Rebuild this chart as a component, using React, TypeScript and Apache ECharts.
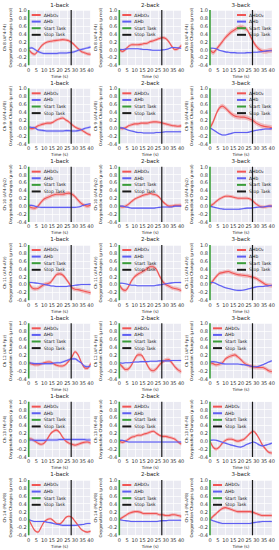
import React, { useEffect, useRef } from 'react';
import * as echarts from 'echarts';

const TIME = [0, 2, 4, 6, 8, 10, 12, 14, 16, 18, 20, 22, 24, 26, 28, 30, 32, 34, 36, 38, 40];
const CONDITIONS = ['1-back', '2-back', '3-back'];
const CHANNELS = [
  'Ch 8 (AF4-F4)',
  'Ch 9 (AF4-AF8)',
  'Ch 10 (AF4-Fp2)',
  'Ch 11 (AF4-AFz)',
  'Ch 12 (AF4-Fpz)',
  'Ch 13 (F6-F4)',
  'Ch 14 (F6-AF8)',
];
const SHOW_TITLE = [
  [true, true, true],
  [true, true, true],
  [true, true, true],
  [true, true, true],
  [true, true, true],
  [true, true, false],
  [true, true, true],
];
const LEGEND_RIGHT = [
  [false, false, true],
  [false, false, true],
  [false, false, true],
  [false, false, true],
  [false, false, false],
  [false, false, false],
  [false, false, false],
];
const START_TASK = 0;
const STOP_TASK = 27.5;

// ΔHbO2 means per channel: [1-back, 2-back, 3-back]
const CH8_HBO2 = [
  [0.0, -0.09, -0.12, -0.03, 0.08, 0.15, 0.19, 0.21, 0.22, 0.23, 0.24, 0.25, 0.24, 0.22, 0.17, 0.1, 0.02, -0.05, -0.08, -0.11, -0.12],
  [0.0, -0.05, 0.0, 0.08, 0.12, 0.12, 0.12, 0.13, 0.15, 0.16, 0.2, 0.22, 0.25, 0.28, 0.3, 0.28, 0.2, 0.08, 0.0, 0.02, 0.1],
  [0.0, -0.08, 0.0, 0.1, 0.2, 0.3, 0.38, 0.45, 0.5, 0.55, 0.57, 0.55, 0.5, 0.35, 0.2, 0.08, 0.0, -0.04, -0.05, -0.03, -0.02],
];
const CH9_HBO2 = [
  [0.0, -0.02, 0.0, 0.05, 0.08, 0.1, 0.12, 0.12, 0.15, 0.2, 0.23, 0.25, 0.2, 0.15, 0.08, 0.02, -0.02, -0.05, -0.1, -0.15, -0.18],
  [0.0, -0.02, 0.0, 0.05, 0.08, 0.1, 0.1, 0.12, 0.12, 0.12, 0.14, 0.15, 0.15, 0.14, 0.12, 0.1, 0.08, 0.06, 0.05, 0.04, 0.05],
  [0.0, 0.15, 0.35, 0.5, 0.55, 0.5, 0.42, 0.35, 0.3, 0.28, 0.27, 0.27, 0.25, 0.22, 0.18, 0.12, 0.08, 0.05, 0.03, 0.02, 0.0],
];
const CH10_HBO2 = [
  [0.0, -0.04, -0.05, 0.0, 0.1, 0.18, 0.22, 0.25, 0.28, 0.3, 0.3, 0.3, 0.32, 0.33, 0.3, 0.24, 0.15, 0.07, 0.02, 0.0, 0.03],
  [0.0, -0.02, 0.0, 0.05, 0.12, 0.18, 0.22, 0.25, 0.28, 0.3, 0.32, 0.3, 0.28, 0.22, 0.12, 0.05, 0.0, 0.0, 0.02, 0.02, 0.02],
  [0.0, 0.05, 0.12, 0.18, 0.22, 0.25, 0.25, 0.24, 0.22, 0.2, 0.2, 0.2, 0.2, 0.18, 0.12, 0.05, 0.0, -0.02, -0.02, 0.0, 0.0],
];
const CH11_HBO2 = [
  [0.05, -0.08, -0.11, -0.1, -0.05, 0.0, 0.02, 0.05, 0.15, 0.25, 0.27, 0.24, 0.15, 0.04, -0.08, -0.12, -0.13, -0.15, -0.17, -0.19, -0.21],
  [0.0, -0.12, -0.15, -0.05, 0.1, 0.2, 0.26, 0.3, 0.35, 0.4, 0.45, 0.45, 0.38, 0.22, 0.08, 0.0, -0.04, -0.08, -0.1, -0.12, -0.15],
  [0.0, 0.1, 0.2, 0.28, 0.3, 0.32, 0.33, 0.3, 0.27, 0.25, 0.24, 0.23, 0.22, 0.2, 0.18, 0.15, 0.1, 0.05, 0.0, -0.02, -0.03],
];
const CH12_HBO2 = [
  [0.0, -0.03, -0.05, -0.05, -0.03, 0.0, 0.02, 0.02, -0.02, -0.06, -0.08, -0.08, -0.04, 0.05, 0.15, 0.28, 0.2, 0.02, -0.12, -0.14, -0.02],
  [-0.02, -0.1, -0.17, -0.15, -0.05, 0.1, 0.2, 0.2, 0.1, -0.05, -0.17, -0.2, -0.15, -0.05, 0.02, 0.07, 0.08, 0.0, -0.1, -0.18, -0.22],
  [0.0, -0.02, -0.05, -0.03, 0.0, 0.1, 0.15, 0.18, 0.2, 0.15, 0.08, 0.0, -0.05, -0.08, -0.1, -0.12, -0.12, -0.12, -0.15, -0.2, -0.22],
];
const CH13_HBO2 = [
  [0.06, 0.05, 0.0, -0.05, -0.08, -0.05, 0.05, 0.18, 0.25, 0.28, 0.22, 0.1, 0.0, -0.05, -0.08, -0.1, -0.08, -0.05, -0.03, -0.02, -0.05],
  [0.0, -0.03, 0.0, 0.05, 0.1, 0.12, 0.15, 0.15, 0.18, 0.2, 0.23, 0.25, 0.2, 0.15, 0.12, 0.12, 0.1, 0.08, 0.05, -0.02, -0.07],
  [0.0, -0.15, -0.2, -0.15, -0.05, 0.02, 0.05, 0.05, 0.02, 0.0, 0.02, 0.05, 0.12, 0.2, 0.25, 0.18, 0.05, -0.1, -0.2, -0.28, -0.3],
];
const CH14_HBO2 = [
  [0.0, -0.15, -0.28, -0.32, -0.2, -0.06, 0.0, 0.02, -0.03, -0.1, -0.11, -0.05, 0.05, 0.08, 0.05, -0.05, -0.15, -0.25, -0.3, -0.32, -0.3],
  [0.0, 0.05, 0.1, 0.15, 0.18, 0.2, 0.2, 0.18, 0.15, 0.15, 0.15, 0.15, 0.15, 0.12, 0.12, 0.1, 0.1, 0.12, 0.12, 0.1, 0.08],
  [0.0, 0.08, 0.15, 0.22, 0.28, 0.3, 0.28, 0.25, 0.22, 0.2, 0.2, 0.2, 0.2, 0.2, 0.18, 0.15, 0.12, 0.1, 0.1, 0.1, 0.1],
];

// ΔHb means per channel
const CH8_HB = [
  [0.03, 0.04, 0.0, -0.05, -0.08, -0.1, -0.1, -0.1, -0.1, -0.1, -0.09, -0.09, -0.09, -0.08, -0.07, -0.05, -0.02, 0.0, 0.02, 0.04, 0.06],
  [0.0, 0.0, 0.01, 0.02, 0.02, 0.02, 0.02, 0.01, 0.0, 0.0, -0.01, -0.02, -0.02, -0.02, -0.01, 0.0, 0.02, 0.05, 0.05, 0.04, 0.03],
  [0.03, 0.03, 0.02, -0.02, -0.04, -0.06, -0.07, -0.08, -0.08, -0.09, -0.09, -0.09, -0.08, -0.08, -0.07, -0.07, -0.06, -0.05, -0.04, -0.03, -0.03],
];
const CH9_HB = [
  [0.02, 0.01, 0.0, -0.05, -0.06, -0.07, -0.08, -0.08, -0.08, -0.08, -0.08, -0.08, -0.07, -0.07, -0.08, -0.08, -0.07, -0.05, -0.02, 0.0, 0.02],
  [0.0, 0.0, -0.03, -0.06, -0.08, -0.1, -0.12, -0.12, -0.13, -0.13, -0.13, -0.13, -0.12, -0.12, -0.11, -0.1, -0.1, -0.1, -0.1, -0.1, -0.1],
  [0.0, -0.05, -0.1, -0.15, -0.18, -0.18, -0.16, -0.14, -0.12, -0.12, -0.12, -0.12, -0.12, -0.1, -0.08, -0.06, -0.05, -0.04, -0.03, -0.03, -0.02],
];
const CH10_HB = [
  [0.02, 0.02, 0.0, -0.02, -0.03, -0.03, -0.03, -0.03, -0.03, -0.03, -0.03, -0.03, -0.03, -0.03, -0.03, -0.03, -0.02, 0.0, 0.03, 0.05, 0.06],
  [0.0, 0.0, -0.02, -0.03, -0.05, -0.05, -0.05, -0.05, -0.05, -0.05, -0.05, -0.05, -0.04, -0.03, -0.02, -0.02, -0.02, -0.02, 0.0, 0.0, 0.0],
  [0.0, -0.02, -0.04, -0.06, -0.07, -0.08, -0.08, -0.08, -0.08, -0.08, -0.07, -0.06, -0.05, -0.05, -0.04, -0.03, -0.02, -0.02, -0.01, 0.0, 0.0],
];
const CH11_HB = [
  [0.05, 0.05, 0.04, 0.03, 0.02, 0.0, -0.01, -0.03, -0.04, -0.05, -0.05, -0.05, -0.05, -0.04, -0.03, -0.02, -0.01, 0.0, 0.0, 0.0, 0.0],
  [0.03, 0.03, 0.02, 0.0, -0.02, -0.02, -0.03, -0.03, -0.03, -0.03, -0.03, -0.03, -0.02, -0.01, 0.0, 0.02, 0.03, 0.04, 0.05, 0.05, 0.05],
  [0.05, 0.05, 0.02, -0.02, -0.05, -0.08, -0.1, -0.12, -0.14, -0.15, -0.15, -0.14, -0.12, -0.1, -0.08, -0.06, -0.05, -0.05, -0.04, -0.03, -0.02],
];
const CH12_HB = [
  [0.0, -0.01, -0.02, -0.02, -0.02, -0.02, -0.02, -0.02, -0.01, 0.0, 0.0, 0.02, 0.05, 0.08, 0.1, 0.1, 0.05, 0.0, -0.08, -0.1, -0.08],
  [0.0, -0.01, 0.0, 0.0, 0.01, 0.02, 0.02, 0.03, 0.03, 0.03, 0.04, 0.04, 0.04, 0.05, 0.05, 0.05, 0.05, 0.06, 0.06, 0.06, 0.06],
  [0.02, 0.03, 0.02, 0.0, -0.02, -0.03, -0.03, -0.03, -0.03, -0.03, -0.04, -0.05, -0.06, -0.08, -0.1, -0.1, -0.08, -0.05, -0.02, 0.02, 0.05],
];
const CH13_HB = [
  [0.03, 0.03, 0.02, 0.02, 0.02, 0.02, 0.03, 0.03, 0.03, 0.03, 0.04, 0.04, 0.04, 0.04, 0.04, 0.04, 0.04, 0.04, 0.04, 0.03, 0.03],
  [0.02, 0.02, 0.0, -0.02, -0.02, -0.02, -0.02, -0.02, -0.02, -0.02, -0.02, -0.02, -0.02, -0.02, -0.02, -0.02, -0.02, -0.02, -0.02, -0.02, -0.02],
  [0.02, 0.03, 0.02, 0.0, -0.03, -0.05, -0.08, -0.1, -0.12, -0.14, -0.15, -0.12, -0.08, -0.05, -0.02, -0.05, -0.1, -0.12, -0.1, -0.08, -0.05],
];
const CH14_HB = [
  [0.0, -0.03, -0.05, -0.05, -0.05, -0.05, -0.07, -0.08, -0.1, -0.12, -0.13, -0.15, -0.15, -0.15, -0.15, -0.15, -0.14, -0.13, -0.12, -0.1, -0.1],
  [0.0, -0.02, -0.03, -0.04, -0.05, -0.05, -0.05, -0.05, -0.05, -0.05, -0.05, -0.05, -0.05, -0.04, -0.03, -0.03, -0.02, -0.02, -0.02, -0.02, -0.02],
  [0.0, -0.03, -0.06, -0.08, -0.1, -0.1, -0.1, -0.1, -0.1, -0.1, -0.1, -0.1, -0.1, -0.1, -0.08, -0.07, -0.06, -0.05, -0.05, -0.05, -0.05],
];

// half-width of shaded error bands per channel [1-back, 2-back, 3-back]
const HBO2_ERR = [
  [0.04, 0.04, 0.06],
  [0.04, 0.04, 0.06],
  [0.05, 0.04, 0.04],
  [0.05, 0.05, 0.05],
  [0.04, 0.05, 0.05],
  [0.04, 0.04, 0.04],
  [0.03, 0.04, 0.04],
];
const HB_ERR = [
  [0.03, 0.02, 0.02],
  [0.03, 0.02, 0.02],
  [0.02, 0.02, 0.02],
  [0.02, 0.02, 0.02],
  [0.03, 0.02, 0.02],
  [0.04, 0.02, 0.02],
  [0.02, 0.02, 0.02],
];

const HBO2 = [CH8_HBO2, CH9_HBO2, CH10_HBO2, CH11_HBO2, CH12_HBO2, CH13_HBO2, CH14_HBO2];
const HB = [CH8_HB, CH9_HB, CH10_HB, CH11_HB, CH12_HB, CH13_HB, CH14_HB];

const FONT = 'DejaVu Sans';
const RED = '#f05555';
const RED_BAND = 'rgba(240, 85, 85, 0.35)';
const BLUE = '#5e5ef2';
const BLUE_BAND = 'rgba(94, 94, 242, 0.3)';
const GREEN = '#3a9d3a';
const BLACK = '#1a1a1a';

const COL_LEFT = [28.7, 119.3, 210];
const PLOT_W = 61.8;
const ROW_STEP = 78.33;
const ROW_TOP0 = 10;
const PLOT_H = 55.3;
const Y_MIN = -0.4;
const Y_MAX = 1.0;

function bandSeries(i: number, mean: number[], err: number, fill: string) {
  return {
    type: 'custom',
    xAxisIndex: i,
    yAxisIndex: i,
    silent: true,
    clip: true,
    z: 1,
    data: TIME.map((t, k) => [t, mean[k] - err, mean[k] + err]),
    encode: { x: 0, y: [1, 2] },
    renderItem: (params: any, api: any) => {
      if (params.dataIndexInside !== 0) return null;
      const n = TIME.length;
      const upper: number[][] = [];
      const lower: number[][] = [];
      for (let k = 0; k < n; k++) {
        upper.push(api.coord([api.value(0, k), api.value(2, k)]));
        lower.push(api.coord([api.value(0, k), api.value(1, k)]));
      }
      const pts = upper.concat(lower.reverse());
      return {
        type: 'polygon',
        shape: { points: pts, smooth: 0.35 },
        style: { fill, stroke: 'none' },
      };
    },
  };
}

function buildOption() {
  const grid: any[] = [];
  const xAxis: any[] = [];
  const yAxis: any[] = [];
  const title: any[] = [];
  const legend: any[] = [];
  const series: any[] = [];

  for (let r = 0; r < CHANNELS.length; r++) {
    for (let c = 0; c < CONDITIONS.length; c++) {
      const i = r * 3 + c;
      const left = COL_LEFT[c];
      const top = ROW_TOP0 + r * ROW_STEP;
      grid.push({
        left, top, width: PLOT_W, height: PLOT_H,
        show: true, backgroundColor: '#EAEAF2', borderWidth: 0,
      });
      xAxis.push({
        gridIndex: i, type: 'value', min: 0, max: 40, interval: 5,
        axisLine: { show: false }, axisTick: { show: false },
        axisLabel: { fontSize: 5, color: '#333', margin: 2, fontFamily: FONT },
        splitLine: { show: true, lineStyle: { color: '#ffffff', width: 0.7 } },
        name: 'Time (s)', nameLocation: 'middle', nameGap: 9,
        nameTextStyle: { fontSize: 4.2, color: '#222', fontFamily: FONT },
      });
      yAxis.push({
        gridIndex: i, type: 'value', min: Y_MIN, max: Y_MAX, interval: 0.2,
        axisLine: { show: false }, axisTick: { show: false },
        axisLabel: {
          fontSize: 5, color: '#333', margin: 2, fontFamily: FONT,
          formatter: (v: number) => v.toFixed(1),
        },
        splitLine: { show: true, lineStyle: { color: '#ffffff', width: 0.7 } },
        name: CHANNELS[r] + '\nOxygenation Changes (μ mol)',
        nameLocation: 'middle', nameRotate: 90, nameGap: 12,
        nameTextStyle: { fontSize: 4, lineHeight: 5.5, color: '#222', fontFamily: FONT },
      });
      if (SHOW_TITLE[r][c]) {
        title.push({
          text: CONDITIONS[c], left: left + PLOT_W / 2, top: top - 8.5, textAlign: 'center', padding: 0,
          textStyle: { fontSize: 5.5, fontWeight: 'normal', color: '#222', fontFamily: FONT },
        });
      }
      legend.push({
        left: left + (LEGEND_RIGHT[r][c] ? 27 : 3), top: top + 2.5,
        orient: 'vertical', padding: 0, itemGap: 1.6, itemWidth: 9, itemHeight: 2,
        icon: 'rect', selectedMode: false,
        data: ['ΔHbO₂', 'ΔHb', 'Start Task', 'Stop Task'],
        textStyle: { fontSize: 4.5, color: '#222', fontFamily: FONT, padding: [0, 0, 0, -2] },
      });

      const red = HBO2[r][c];
      const blue = HB[r][c];
      series.push(bandSeries(i, red, HBO2_ERR[r][c], RED_BAND));
      series.push(bandSeries(i, blue, HB_ERR[r][c], BLUE_BAND));
      const common = {
        type: 'line', xAxisIndex: i, yAxisIndex: i, symbol: 'none', smooth: 0.35, silent: true, z: 3,
      };
      series.push({
        ...common, name: 'ΔHbO₂', color: RED,
        data: TIME.map((t, k) => [t, red[k]]),
        lineStyle: { color: RED, width: 1.1 },
      });
      series.push({
        ...common, name: 'ΔHb', color: BLUE,
        data: TIME.map((t, k) => [t, blue[k]]),
        lineStyle: { color: BLUE, width: 1.1 },
      });
      series.push({
        type: 'line', xAxisIndex: i, yAxisIndex: i, symbol: 'none', silent: true,
        name: 'Start Task', color: GREEN,
        data: [[START_TASK, Y_MIN], [START_TASK, Y_MAX]],
        lineStyle: { color: GREEN, width: 1.6 }, z: 5,
      });
      series.push({
        type: 'line', xAxisIndex: i, yAxisIndex: i, symbol: 'none', silent: true,
        name: 'Stop Task', color: BLACK,
        data: [[STOP_TASK, Y_MIN], [STOP_TASK, Y_MAX]],
        lineStyle: { color: BLACK, width: 1.2 }, z: 5,
      });
    }
  }

  return {
    animation: false,
    backgroundColor: '#ffffff',
    textStyle: { fontFamily: FONT },
    grid, xAxis, yAxis, title, legend, series,
  };
}

export default function App() {
  const ref = useRef<HTMLDivElement>(null);
  useEffect(() => {
    if (!ref.current) return;
    const chart = echarts.init(ref.current, undefined, { renderer: 'svg' });
    chart.setOption(buildOption() as any);
    return () => chart.dispose();
  }, []);
  return (
    <div
      ref={ref}
      style={{ position: 'fixed', left: 0, top: 0, width: 279, height: 550 }}
    />
  );
}
